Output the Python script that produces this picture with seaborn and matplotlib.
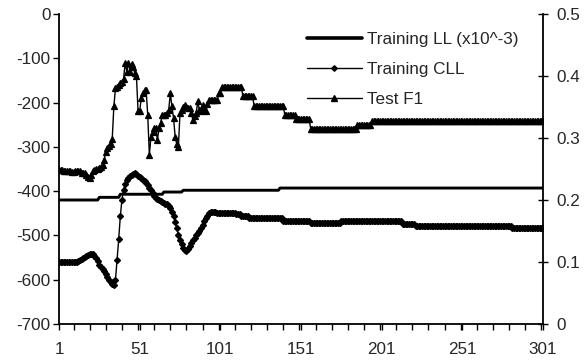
import numpy as np
import pandas as pd
import matplotlib
matplotlib.use("Agg")
import matplotlib.pyplot as plt
from matplotlib.lines import Line2D
from matplotlib.ticker import FixedLocator, MultipleLocator
import seaborn as sns

# ---------------- data ----------------
iterations = list(range(1, 302))

training_ll = ([-420] * 25 + [-414] * 13 + [-407] * 27 + [-402] * 12
               + [-398] * 60 + [-393] * 164)

training_cll = ([-561] * 10 +
                [-560, -559, -557, -555, -553, -551, -549, -547, -545, -543,
                 -542, -543, -547, -552, -558, -566, -571, -576, -580, -587,
                 -594, -600, -606, -610, -612, -600, -555, -509, -457, -420,
                 -397, -383, -375, -370, -366,
                 -363, -361, -360, -362, -366,
                 -368, -371, -374, -377, -381,
                 -386, -392, -398, -405, -410,
                 -415, -418, -420, -422, -424,
                 -426, -428, -430, -433, -438,
                 -446, -457, -470, -484, -499,
                 -510, -520, -528, -533, -535,
                 -531, -524, -518, -511, -506,
                 -500, -495, -490, -484, -476,
                 -468, -461, -455, -450, -446,
                 -446, -447, -448]
                + [-449] * 12 + [-452] * 3 + [-456] * 5 + [-461] * 21
                + [-467] * 17 + [-473] * 19 + [-467] * 38 + [-474] * 8
                + [-479] * 60 + [-484] * 20)

test_f1 = ([0.249, 0.249, 0.249, 0.247, 0.247, 0.246, 0.246, 0.246, 0.245, 0.245,
            0.246, 0.246, 0.246, 0.246, 0.244, 0.243, 0.243,
            0.240, 0.237, 0.235, 0.240, 0.247, 0.249, 0.250, 0.250,
            0.252, 0.254, 0.256, 0.265, 0.278,
            0.284, 0.287, 0.290, 0.299, 0.351,
            0.380, 0.383, 0.386, 0.388, 0.391,
            0.395, 0.421, 0.407, 0.421, 0.407,
            0.419, 0.414, 0.405, 0.400, 0.343,
            0.343, 0.364, 0.372, 0.377, 0.377,
            0.337, 0.273, 0.302, 0.310, 0.316,
            0.316, 0.297, 0.316, 0.325, 0.337,
            0.337, 0.337, 0.340, 0.345, 0.372,
            0.351, 0.332, 0.302, 0.290, 0.286,
            0.340, 0.345, 0.350, 0.354, 0.350,
            0.348, 0.348, 0.340, 0.329, 0.335,
            0.340, 0.359, 0.345, 0.343, 0.354,
            0.348, 0.343, 0.355]
           + [0.361] * 6 + [0.372] * 2 + [0.383] * 13 + [0.367] * 7
           + [0.351] * 19 + [0.337] * 7 + [0.331] * 9 + [0.315] * 29
           + [0.321] * 9 + [0.328] * 107)

series_labels = ["Training LL (x10^-3)", "Training CLL", "Test F1"]
x_tick_values = [1, 51, 101, 151, 201, 251, 301]
left_tick_values = [0, -100, -200, -300, -400, -500, -600, -700]
left_tick_labels = ["0", "-100", "-200", "-300", "-400", "-500", "-600", "-700"]
right_tick_values = [0, 0.1, 0.2, 0.3, 0.4, 0.5]
right_tick_labels = ["0", "0.1", "0.2", "0.3", "0.4", "0.5"]

assert len(training_ll) == len(iterations)
assert len(training_cll) == len(iterations)
assert len(test_f1) == len(iterations)

df = pd.DataFrame({"iter": iterations, "ll": training_ll,
                   "cll": training_cll, "f1": test_f1})

# ---------------- figure ----------------
sns.set_theme(style="white")
plt.rcParams["font.family"] = ["Liberation Sans", "DejaVu Sans"]
plt.rcParams["axes.unicode_minus"] = False

fig = plt.figure(figsize=(5.86, 3.62), dpi=100)
ax = fig.add_axes([59 / 586, 1 - 324 / 362, (543 - 59) / 586, (324 - 14) / 362])
ax2 = ax.twinx()

FS = 12.3
black = "black"

sns.lineplot(data=df, x="iter", y="ll", ax=ax, color=black, linewidth=2.1,
             legend=False)
sns.lineplot(data=df, x="iter", y="cll", ax=ax, color=black, linewidth=1.0,
             marker="D", markersize=3.0, markeredgewidth=1.0,
             markeredgecolor=black, markerfacecolor=black, legend=False)
sns.lineplot(data=df, x="iter", y="f1", ax=ax2, color=black, linewidth=1.0,
             marker="^", markersize=4.4, markeredgewidth=0.9,
             markeredgecolor=black, markerfacecolor=black, legend=False)

ax.set_xlim(1, 301)
ax.set_ylim(-700, 0)
ax2.set_ylim(0, 0.5)

ax.set_xlabel("")
ax.set_ylabel("")
ax2.set_ylabel("")

ax.xaxis.set_major_locator(FixedLocator(x_tick_values))
ax.xaxis.set_minor_locator(MultipleLocator(10))
ax.set_xticklabels([str(v) for v in x_tick_values])
ax.set_yticks(left_tick_values)
ax.set_yticklabels(left_tick_labels)
ax2.set_yticks(right_tick_values)
ax2.set_yticklabels(right_tick_labels)

for a in (ax, ax2):
    a.grid(False)
    a.set_facecolor("none")
    for s in a.spines.values():
        s.set_color(black)
        s.set_linewidth(1.3)
    a.spines["top"].set_visible(False)
ax.spines["right"].set_visible(False)
ax2.spines["left"].set_visible(False)
ax2.spines["bottom"].set_visible(False)

ax.tick_params(axis="x", which="both", direction="out", length=4, width=1,
               color=black, labelsize=FS, pad=9, bottom=True)
ax.tick_params(axis="y", which="both", direction="out", length=4, width=1,
               color=black, labelsize=FS, pad=2, left=True)
ax2.tick_params(axis="y", which="both", direction="inout", length=7, width=1,
                color=black, labelsize=FS, pad=6, right=True)

handles = [
    Line2D([], [], color=black, linewidth=2.6),
    Line2D([], [], color=black, linewidth=1.0, marker="D", markersize=2.8,
           markerfacecolor=black, markeredgecolor=black),
    Line2D([], [], color=black, linewidth=1.0, marker="^", markersize=3.8,
           markerfacecolor=black, markeredgecolor=black),
]
fig.legend(handles, series_labels, loc="upper left",
           bbox_to_anchor=(307 / 586, 1 - 32 / 362),
           bbox_transform=fig.transFigure, frameon=False, fontsize=FS,
           handlelength=3.2, handletextpad=0.3, labelspacing=0.88,
           borderpad=0, borderaxespad=0, numpoints=1)

fig.savefig("out.png", dpi=100)
